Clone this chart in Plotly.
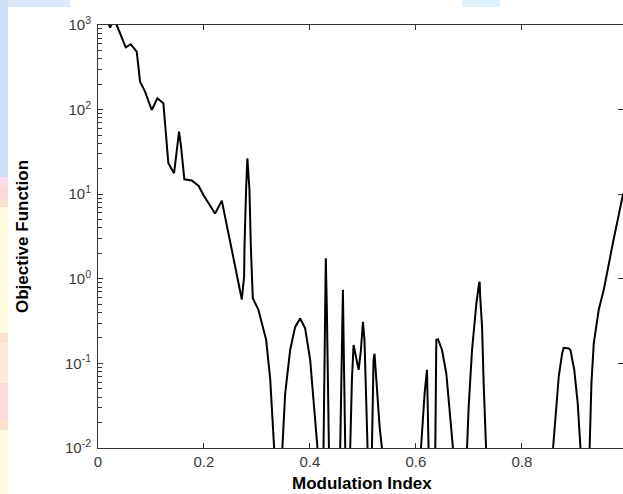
import plotly.graph_objects as go

# Modulation index (x) and objective function (y); None marks where the curve
# drops below the visible range (10^-2) and leaves the axes.
mod_index = [
    0.012, 0.0227, 0.030, 0.036, 0.0523, 0.0618, 0.0731, 0.0794, 0.0888, 0.1015,
    0.112, 0.1234, 0.1328, 0.1436, 0.153, 0.1568, 0.163, 0.177, 0.190, 0.199,
    0.221, 0.2337, 0.2715, 0.2758, 0.2765, 0.2777, 0.2796, 0.282, 0.2859, 0.2885,
    0.2903, 0.2922, 0.3028, 0.3123, 0.3174, 0.325, 0.3325, None,
    0.348, 0.3533, 0.3627, 0.3722, 0.3816, 0.391, 0.4005, 0.41, 0.4143, None,
    0.4257, 0.4276, 0.430, 0.432, 0.434, 0.4359, None,
    0.4572, 0.459, 0.461, 0.4623, 0.4636, 0.4654, 0.4667, None,
    0.4761, 0.4793, 0.4824, 0.4875, 0.492, 0.4963, 0.5001, 0.503, 0.5063, 0.5088, None,
    0.5171, 0.5201, 0.522, 0.5265, 0.5315, 0.536, None,
    0.6097, 0.6134, 0.6165, 0.621, 0.6229, 0.624, None,
    0.6367, 0.6386, 0.6418, 0.6494, 0.6575, 0.665, 0.670, None,
    0.6966, 0.6997, 0.706, 0.7142, 0.7192, 0.7204, 0.7215, 0.725, 0.728, 0.7325, None,
    0.859, 0.8634, 0.8697, 0.876, 0.879, 0.8885, 0.8918, 0.899, 0.9055, 0.9107, None,
    0.928, 0.9314, 0.9358, 0.9452, 0.9547, 0.9641, 0.9736, 0.983, 0.9913,
]
objective = [
    1400, 930, 1150, 973, 545, 592, 483, 214, 163, 99,
    136, 119, 23.2, 17.7, 54.8, 36.4, 15.0, 14.5, 12.5, 9.8,
    5.9, 8.4, 0.57, 1.06, 2.4, 5.4, 11.7, 26.5, 11.2, 2.4,
    1.06, 0.59, 0.43, 0.26, 0.19, 0.066, 0.01, None,
    0.01, 0.044, 0.144, 0.27, 0.34, 0.26, 0.11, 0.018, 0.01, None,
    0.01, 0.19, 1.75, 0.43, 0.049, 0.01, None,
    0.01, 0.04, 0.227, 0.74, 0.19, 0.026, 0.01, None,
    0.01, 0.064, 0.165, 0.11, 0.084, 0.144, 0.31, 0.19, 0.031, 0.01, None,
    0.01, 0.11, 0.13, 0.053, 0.018, 0.01, None,
    0.01, 0.026, 0.044, 0.084, 0.031, 0.01, None,
    0.01, 0.19, 0.193, 0.144, 0.076, 0.021, 0.01, None,
    0.01, 0.031, 0.144, 0.51, 0.88, 0.92, 0.6, 0.27, 0.058, 0.01, None,
    0.01, 0.023, 0.07, 0.13, 0.153, 0.15, 0.144, 0.084, 0.034, 0.01, None,
    0.01, 0.058, 0.173, 0.43, 0.74, 1.52, 3.0, 5.7, 10.2,
]

x_title = "Modulation Index"
y_title = "Objective Function"
x_tickvals = [0, 0.2, 0.4, 0.6, 0.8]
x_ticktext = ["0", "0.2", "0.4", "0.6", "0.8"]
y_tickvals = [0.01, 0.1, 1, 10, 100, 1000]
y_ticktext = ["10<sup>-2</sup>", "10<sup>-1</sup>", "10<sup>0</sup>",
              "10<sup>1</sup>", "10<sup>2</sup>", "10<sup>3</sup>"]
y_minor_vals = [m * d for d in [0.01, 0.1, 1, 10, 100] for m in range(2, 10)]

W, H = 623, 494
L, R, T, B = 98, 0, 25, 46
PW, PH = W - L - R, H - T - B


def px2paper_x(px):
    return (px - L) / PW


def px2paper_y(py):
    return (H - B - py) / PH


fig = go.Figure()
fig.add_trace(go.Scatter(
    x=mod_index, y=objective, mode="lines",
    line=dict(color="black", width=2), connectgaps=False,
    hoverinfo="skip", showlegend=False,
))
# empty trace so the right-hand tick axis is drawn
fig.add_trace(go.Scatter(x=[None], y=[None], yaxis="y2", mode="lines",
                         showlegend=False, hoverinfo="skip"))

# slide background strips (left and top edges)
strips = [
    (0, 0, 8, 177, "#cfdcf8"),
    (0, 177, 8, 185, "#f8dcf0"),
    (0, 185, 8, 200, "#ffd6d6"),
    (0, 200, 8, 207, "#ffe2cc"),
    (0, 207, 8, 333, "#fffde0"),
    (0, 333, 8, 343, "#ffe2cc"),
    (0, 343, 8, 383, "#ffeadb"),
    (0, 383, 8, 420, "#ffd8d8"),
    (0, 420, 8, 430, "#ffe2cc"),
    (0, 430, 8, 494, "#fffde0"),
    (8, 0, 70, 7, "#dde8fb"),
    (462, 0, 500, 7, "#def1fc"),
]
shapes = []
for x0, y0, x1, y1, c in strips:
    shapes.append(dict(
        type="rect", xref="paper", yref="paper",
        x0=px2paper_x(x0), x1=px2paper_x(x1),
        y0=px2paper_y(y1), y1=px2paper_y(y0),
        fillcolor=c, line=dict(width=0), layer="below",
    ))

tick_font = dict(family="Liberation Sans, Arial", size=15, color="#3a3a3a")
title_font = dict(family="Liberation Sans, Arial", size=17, color="black")

axis_common = dict(
    showline=True, linecolor="#333333", linewidth=1,
    ticks="inside", ticklen=5, tickcolor="#333333", showgrid=False,
    zeroline=False, tickfont=tick_font, automargin=False,
)

annotations = [
    dict(text="<b>" + x_title + "</b>", xref="paper", yref="paper",
         x=px2paper_x(362), y=px2paper_y(484), xanchor="center", yanchor="middle",
         showarrow=False, font=title_font),
    dict(text="<b>" + y_title + "</b>", xref="paper", yref="paper",
         x=px2paper_x(22), y=px2paper_y(237), xanchor="center", yanchor="middle",
         textangle=-90, showarrow=False, font=title_font),
]

fig.update_layout(
    width=W, height=H,
    margin=dict(l=L, r=R, t=T, b=B, autoexpand=False),
    paper_bgcolor="white", plot_bgcolor="white",
    shapes=shapes, annotations=annotations,
    xaxis=dict(
        range=[0, 0.991], tickmode="array", tickvals=x_tickvals, ticktext=x_ticktext,
        mirror="ticks", **axis_common,
    ),
    yaxis=dict(
        type="log", range=[-2, 3], tickmode="array", tickvals=y_tickvals, ticktext=y_ticktext,
        ticklabelstandoff=3, mirror=False,
        minor=dict(ticks="inside", ticklen=4, tickcolor="#333333",
                   tickmode="array", tickvals=y_minor_vals, showgrid=False),
        **axis_common,
    ),
    yaxis2=dict(
        type="log", range=[-2, 3], overlaying="y", side="right",
        tickmode="array", tickvals=y_tickvals, showticklabels=False,
        ticks="inside", ticklen=5, tickcolor="#333333", showline=False,
        showgrid=False, zeroline=False, automargin=False,
    ),
)

fig.write_html(
    "out.html",
    config={"displayModeBar": False, "staticPlot": True},
    post_script="document.body.style.margin='0';document.body.style.overflow='hidden';",
)
